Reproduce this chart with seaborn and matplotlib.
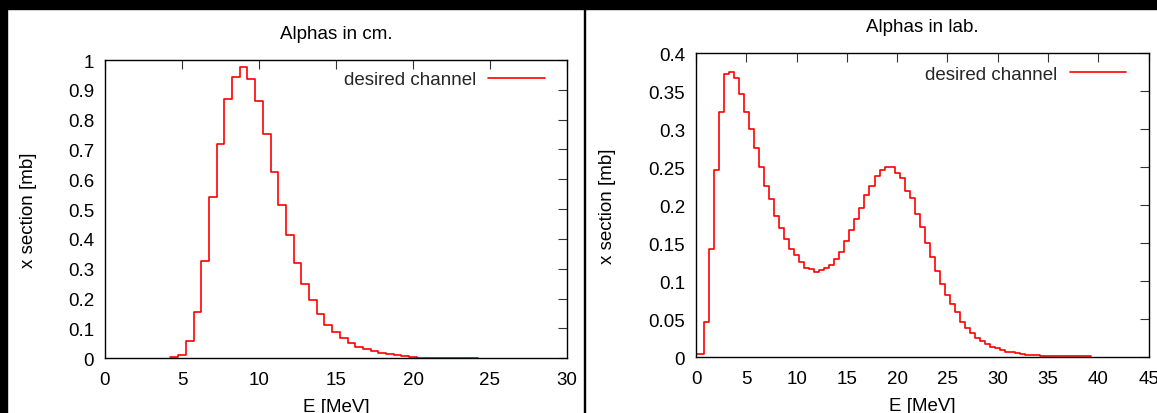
import numpy as np
import pandas as pd
import matplotlib
matplotlib.use("Agg")
import matplotlib.pyplot as plt
from matplotlib.patches import Rectangle
from matplotlib.ticker import FuncFormatter, MultipleLocator
import seaborn as sns

# ---------------- data ----------------
bin_width = 0.5
# centre-of-mass spectrum (bin centres in MeV)
cm_energy = np.arange(4.5, 24.0 + 0.01, bin_width)
cm_xsec = [0.003, 0.010, 0.059, 0.154, 0.325, 0.540, 0.717, 0.870, 0.942, 0.978,
           0.936, 0.864, 0.751, 0.626, 0.513, 0.412, 0.320, 0.248, 0.195, 0.150,
           0.113, 0.087, 0.067, 0.050, 0.037, 0.030, 0.0245, 0.018, 0.013, 0.010,
           0.0067, 0.0056, 0.002, 0.002, 0.002, 0.002, 0.002, 0.002, 0.002, 0.002]

# lab spectrum (bin centres in MeV)
lab_energy = np.arange(0.0, 39.0 + 0.01, bin_width)
lab_xsec = [0.004, 0.004, 0.047, 0.142, 0.246, 0.323, 0.373, 0.375, 0.368, 0.347,
            0.323, 0.300, 0.276, 0.251, 0.226, 0.208, 0.186, 0.170, 0.155, 0.143,
            0.134, 0.126, 0.118, 0.116, 0.112, 0.115, 0.118, 0.122, 0.130, 0.139,
            0.153, 0.167, 0.182, 0.197, 0.214, 0.226, 0.238, 0.246, 0.251, 0.250,
            0.243, 0.236, 0.219, 0.209, 0.189, 0.171, 0.150, 0.132, 0.113, 0.096,
            0.082, 0.070, 0.059, 0.047, 0.039, 0.032, 0.025, 0.022, 0.018, 0.014,
            0.012, 0.009, 0.007, 0.007, 0.0057, 0.0043, 0.003, 0.003, 0.003,
            0.0013, 0.0013, 0.0013, 0.0013, 0.0013, 0.0013, 0.0013, 0.0013, 0.0013, 0.0013]

titles = ["Alphas in cm.", "Alphas in lab."]
series_label = "desired channel"
x_label = "E [MeV]"
y_label = "x section [mb]"

# ---------------- style ----------------
sns.set_style("white")
plt.rcParams["font.family"] = ["Liberation Sans", "DejaVu Sans"]
FS = 13.5
plt.rcParams["font.size"] = FS

W, H = 1157, 414
fig = plt.figure(figsize=(W / 100, H / 100), dpi=100, facecolor="white")

# black frame pieces of the screenshot
fig.patches.append(Rectangle((0, 1 - 10 / H), 1, 10 / H, transform=fig.transFigure,
                             color="black", zorder=0))
fig.patches.append(Rectangle((0, 0), 7 / W, 1, transform=fig.transFigure,
                             color="black", zorder=0))
fig.patches.append(Rectangle((583.5 / W, 0), 1.5 / W, 1, transform=fig.transFigure,
                             color="black", zorder=0))


def px_axes(x0, x1, ytop, ybot):
    return fig.add_axes([x0 / W, (H - ybot) / H, (x1 - x0) / W, (ybot - ytop) / H])


ax1 = px_axes(105, 567, 61, 359.3)
ax2 = px_axes(696, 1148.6, 54.3, 358.3)

fmt = FuncFormatter(lambda v, p: "%g" % round(v, 4))


def draw(ax, energy, xsec, xmax, ymax, ystep, title, ylab_x, leg_x, leg_y):
    df = pd.DataFrame({"E": energy, "xs": xsec})
    centres = df["E"].tolist()
    edges = [c - bin_width / 2 for c in centres] + [centres[-1] + bin_width / 2]
    sns.histplot(data=df, x="E", weights="xs", bins=edges, element="step",
                 fill=False, color="#ff0000", linewidth=1.2, ax=ax, label=series_label)
    ax.set_xlim(0, xmax)
    ax.set_ylim(0, ymax)
    ax.xaxis.set_major_locator(MultipleLocator(5))
    ax.yaxis.set_major_locator(MultipleLocator(ystep))
    ax.xaxis.set_major_formatter(fmt)
    ax.yaxis.set_major_formatter(fmt)
    ax.tick_params(direction="in", length=6.8, width=0.8, color="#333333",
                   top=True, right=True, labelsize=FS, labelcolor="black")
    ax.tick_params(axis="x", pad=9.2)
    ax.tick_params(axis="y", pad=7.8)
    for s in ax.spines.values():
        s.set_color("black")
        s.set_linewidth(1.0)
    ax.set_title(title, fontsize=FS, pad=15.8, color="black")
    ax.set_xlabel(x_label, fontsize=FS, color="black")
    ax.set_ylabel(y_label, fontsize=FS, color="black")
    ax.xaxis.set_label_coords(0.5, -0.132)
    ax.xaxis.label.set_va("top")
    ax.yaxis.set_label_coords(ylab_x, 0.5)
    ax.legend(loc="upper right", bbox_to_anchor=(leg_x, leg_y), frameon=False,
              markerfirst=False, handlelength=3.0, handletextpad=0.65,
              borderaxespad=0, borderpad=0, fontsize=FS)
    ax.grid(False)


draw(ax1, cm_energy, cm_xsec, 30, 1.0, 0.1, titles[0], -0.147, 0.9515, 0.962)
draw(ax2, lab_energy, lab_xsec, 45, 0.4, 0.05, titles[1], -0.176, 0.950, 0.960)

fig.savefig("out.png", dpi=100, facecolor="white")
